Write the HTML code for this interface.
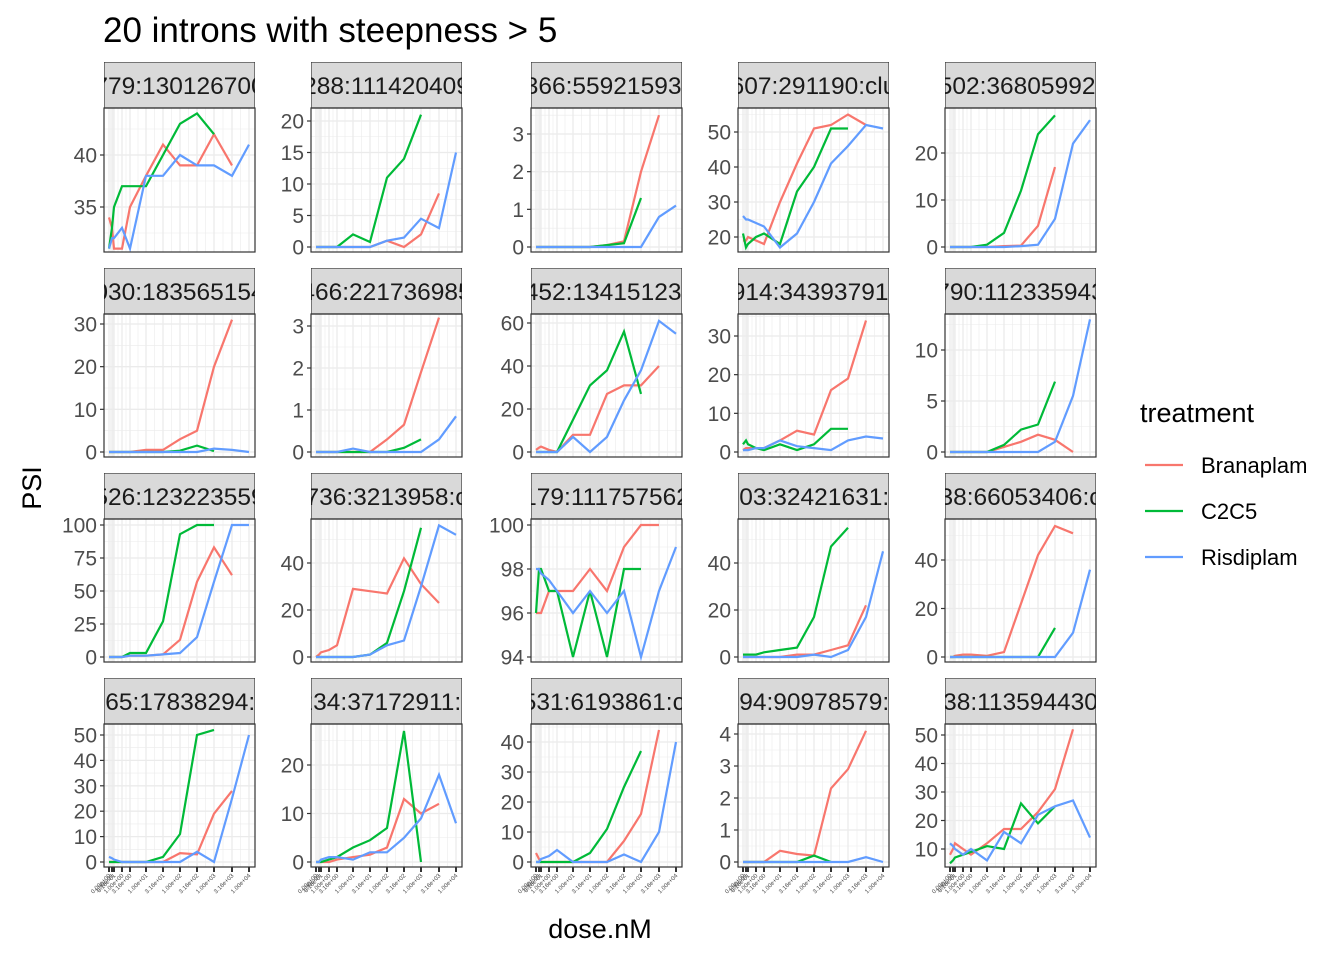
<!DOCTYPE html>
<html><head><meta charset="utf-8"><style>body{margin:0;background:#fff}svg{display:block}</style></head>
<body>
<svg id="s" width="1344" height="960" xmlns="http://www.w3.org/2000/svg" font-family="Liberation Sans, Arial, sans-serif"></svg>
<script>
const S=document.getElementById('s');let h='';
const cols=[104,311,531,738,945],W=151;
const rows=[[62,108,252],[268,314,457],[473,519,662],[678,724,867]];
const off=[5,8,10,18,26,42,59,76,93,110,128,145];
const C=['#F8766D','#00BA38','#619CFF'];
const strips=["779:130126700","288:111420409","366:55921593:","607:291190:clu","502:36805992:",
"030:183565154","466:221736985","452:13415123:","914:34393791:","790:112335943",
"526:123223559","736:3213958:c","179:111757562","103:32421631:c","38:66053406:c",
"365:17838294:c","234:37172911:c","531:6193861:cl","594:90978579:c","38:113594430"];
const N=null;
const P=[
[[35,40],207,155,[34,33,31,31,35,38,41,39,39,42,39,N],[31,33,35,37,37,37,40,43,44,42,N,N],[31,32,32,33,31,38,38,40,39,39,38,41]],
[[0,5,10,15,20],247,121,[0,0,0,0,0,0,0,1,0,2,8.5,N],[0,0,0,0,0,2,0.8,11,14,21,N,N],[0,0,0,0,0,0,0,1,1.5,4.5,3,15]],
[[0,1,2,3],247,134,[0,0,0,0,0,0,0,0.05,0.15,2,3.5,N],[0,0,0,0,0,0,0,0.05,0.1,1.3,N,N],[0,0,0,0,0,0,0,0,0,0,0.8,1.1]],
[[20,30,40,50],237,132,[19,19,20,19,18,30,41,51,52,55,52,N],[21,17,18,20,21,18,33,40,51,51,N,N],[26,25,25,24,23,17,21,30,41,46,52,51]],
[[0,10,20],247,153,[0,0,0,0,0,0,0.2,0.3,4.5,17,N,N],[0,0,0,0,0,0.5,3,12,24,28,N,N],[0,0,0,0,0,0,0,0.2,0.5,6,22,27]],
[[0,10,20,30],452,324,[0,0,0,0,0,0.5,0.5,3,5,20,31,N],[0,0,0,0,0,0,0,0.3,1.5,0.2,N,N],[0,0,0,0,0,0,0,0,0,0.8,0.5,0]],
[[0,1,2,3],452,326,[0,0,0,0,0,0,0,0.3,0.65,1.9,3.2,N],[0,0,0,0,0,0,0,0,0.1,0.3,N,N],[0,0,0,0,0,0.08,0,0,0,0,0.3,0.85]],
[[0,20,40,60],452,323,[1,2,2.5,1,0,8,8,27,31,31,40,N],[0,0,0,0,0,15,31,38,56,27,N,N],[0,0,0,0,0,7,0,7,24,38,61,55]],
[[0,10,20,30],452,336,[0.5,1,1,1,1,3,5.5,4.5,16,19,34,N],[2,3,2,1,0.5,2,0.5,2,6,6,N,N],[0.5,0.5,0.5,1,1,3,1.5,1,0.5,3,4,3.5]],
[[0,5,10],452,350,[0,0,0,0,0,0,0.5,1,1.7,1.2,0,N],[0,0,0,0,0,0,0.7,2.2,2.7,6.9,N,N],[0,0,0,0,0,0,0,0,0,1,5.5,13]],
[[0,25,50,75,100],657,525,[0,0,0,0,1,1,2,13,57,83,62,N],[0,0,0,0,3,3,27,93,100,100,N,N],[0,0,0,0,1,1,2,3,15,57,100,100]],
[[0,20,40],657,563,[0,1,2,3,5,29,28,27,42,31,23,N],[0,0,0,0,0,0,1,6,28,55,N,N],[0,0,0,0,0,0,1,5,7,30,56,52]],
[[94,96,98,100],657,525,[96,96,96,97,97,97,98,97,99,100,100,N],[96,98,98,97,97,94,97,94,98,98,N,N],[98,98,97.8,97.5,97,96,97,96,97,94,97,99]],
[[0,20,40],657,563,[0,0,0,0,0,0,1,1,3,5,22,N],[1,1,1,1,2,3,4,17,47,55,N,N],[0,0,0,0,0,0,0,1,0,3,17,45]],
[[0,20,40],657,560,[0,0,0.5,1,1,0.5,2,22,42,54,51,N],[0,0,0,0,0,0,0,0,0,12,N,N],[0,0,0,0,0,0,0,0,0,0,10,36]],
[[0,10,20,30,40,50],862,735,[0,0,0,0,0,0,0,3.5,3,19,28,N],[0,0,0,0,0,0,2,11,50,52,N,N],[2,1.5,1,0,0,0,0,0,4,0,25,50]],
[[0,10,20],862,765,[0,0,0,0,0.5,1,1.5,3,13,10,12,N],[0,0,0,0.5,1,3,4.5,7,27,0,N,N],[0,0,0.5,1,1,0.5,2,2,5,9,18,8]],
[[0,10,20,30,40],862,742,[3,1,0,0,0,0,0,0,7,16,44,N],[0,0,0,0,0,0,3,11,25,37,N,N],[0,0,1,2,4,0,0,0,2.5,0,10,40]],
[[0,1,2,3,4],862,734,[0,0,0,0,0,0.35,0.25,0.2,2.3,2.9,4.1,N],[0,0,0,0,0,0,0,0.2,0,N,N,N],[0,0,0,0,0,0,0,0,0,0,0.15,0]],
[[10,20,30,40,50],849,735,[8,10,12,10,8,12,17,17,23,31,52,N],[5,6,7,8,9,11,10,26,19,25,N,N],[12,11,10,8,10,6,16,12,22,25,27,14]]
];
const xl=["0.00e+00","1.00e-01","3.16e-01","1.00e+00","3.16e+00","1.00e+01","3.16e+01","1.00e+02","3.16e+02","1.00e+03","3.16e+03","1.00e+04"];
h+='<text x="103" y="42" font-size="35" fill="#000">20 introns with steepness &gt; 5</text>';
h+='<text x="600" y="938" font-size="27" text-anchor="middle">dose.nM</text>';
h+='<text transform="translate(41,488) rotate(-90)" font-size="27" text-anchor="middle">PSI</text>';
P.forEach((p,i)=>{
 const r=rows[Math.floor(i/5)],x0=cols[i%5],[st,pt,pb]=r;
 const [ticks,y0,y1]=p;const t0=ticks[0],t1=ticks[ticks.length-1];
 const Y=v=>y0+(v-t0)*(y1-y0)/(t1-t0);
 h+=`<defs><clipPath id="c${i}"><rect x="${x0}" y="${st}" width="${W}" height="${pb-st}"/></clipPath></defs>`;
 h+=`<rect x="${x0}" y="${pt}" width="${W}" height="${pb-pt}" fill="#fff"/>`;
 h+=`<g clip-path="url(#c${i})">`;
 const step=ticks.length>1?ticks[1]-ticks[0]:5;
 for(let v=t0-step*3;v<=t1+step*3;v+=step/2){const y=Y(v);if(y>pt&&y<pb){const maj=Math.abs(((v-t0)/step)-Math.round((v-t0)/step))<1e-6;h+=`<line x1="${x0}" x2="${x0+W}" y1="${y}" y2="${y}" stroke="#ebebeb" stroke-width="${maj?1.3:0.6}"/>`;}}
 for(let k=0;k<12;k++){const x=x0+off[k];h+=`<line x1="${x}" x2="${x}" y1="${pt}" y2="${pb}" stroke="#ebebeb" stroke-width="1.3"/>`;if(k<11){const xm=x0+(off[k]+off[k+1])/2;h+=`<line x1="${xm}" x2="${xm}" y1="${pt}" y2="${pb}" stroke="#ebebeb" stroke-width="0.6"/>`;}}
 [p[3],p[4],p[5]].forEach((d,j)=>{let pts=[];d.forEach((v,k)=>{if(v!==null)pts.push((x0+off[k])+','+Y(v).toFixed(1));});h+=`<polyline points="${pts.join(' ')}" fill="none" stroke="${C[j]}" stroke-width="2.2"/>`;});
 h+=`<rect x="${x0}" y="${st}" width="${W}" height="${pt-st}" fill="#d9d9d9" stroke="#333" stroke-width="1.2"/>`;
 h+=`<text x="${x0+W/2}" y="${st+32}" font-size="24.5" text-anchor="middle" fill="#1a1a1a">${strips[i]}</text>`;
 h+=`</g>`;
 h+=`<rect x="${x0}" y="${pt}" width="${W}" height="${pb-pt}" fill="none" stroke="#333" stroke-width="1.2"/>`;
 ticks.forEach(v=>{const y=Y(v);h+=`<line x1="${x0-4}" x2="${x0}" y1="${y}" y2="${y}" stroke="#333" stroke-width="1.2"/><text x="${x0-7}" y="${y+7.5}" font-size="21" text-anchor="end" fill="#4d4d4d">${v}</text>`;});
 if(i>=15){for(let k=0;k<12;k++){const x=x0+off[k];h+=`<line x1="${x}" x2="${x}" y1="${pb}" y2="${pb+5}" stroke="#333" stroke-width="2"/><text transform="translate(${x+2},${pb+9}) rotate(-45)" font-size="6" text-anchor="end" fill="#4d4d4d">${xl[k]}</text>`;}}
});
h+='<text x="1140" y="422" font-size="27">treatment</text>';
['Branaplam','C2C5','Risdiplam'].forEach((n,j)=>{const y=465+46*j;h+=`<line x1="1145" x2="1183" y1="${y}" y2="${y}" stroke="${C[j]}" stroke-width="2.2"/><text x="1201" y="${y+8}" font-size="22">${n}</text>`;});
S.innerHTML=h;
</script>
</body></html>
